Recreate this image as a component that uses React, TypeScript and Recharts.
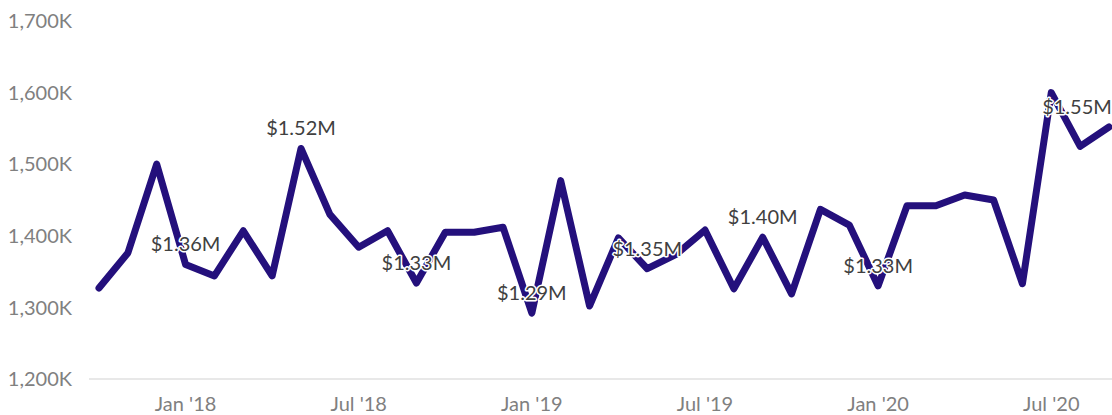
import { LineChart, Line, XAxis, YAxis, LabelList } from 'recharts';

const months = [
  "Oct '17", "Nov '17", "Dec '17",
  "Jan '18", "Feb '18", "Mar '18", "Apr '18", "May '18", "Jun '18",
  "Jul '18", "Aug '18", "Sep '18", "Oct '18", "Nov '18", "Dec '18",
  "Jan '19", "Feb '19", "Mar '19", "Apr '19", "May '19", "Jun '19",
  "Jul '19", "Aug '19", "Sep '19", "Oct '19", "Nov '19", "Dec '19",
  "Jan '20", "Feb '20", "Mar '20", "Apr '20", "May '20", "Jun '20",
  "Jul '20", "Aug '20", "Sep '20",
];

// revenue in thousands of dollars
const revenueK = [
  1327, 1376, 1500,
  1360, 1344, 1407, 1344, 1522, 1430,
  1384, 1407, 1334, 1405, 1405, 1412,
  1292, 1477, 1302, 1397, 1354, 1374,
  1408, 1326, 1398, 1319, 1437, 1415,
  1330, 1442, 1442, 1457, 1450, 1333,
  1600, 1525, 1552,
];

const labeledMonths = ["Jan '18", "May '18", "Sep '18", "Jan '19", "May '19", "Sep '19", "Jan '20", "Sep '20"];
const xTicks = ["Jan '18", "Jul '18", "Jan '19", "Jul '19", "Jan '20", "Jul '20"];
const yTicks = [1200, 1300, 1400, 1500, 1600, 1700];

const W = 1112;
const H = 415;
const LINE_COLOR = '#24107c';
const FONT = 'Lato, "Open Sans", sans-serif';

const data = months.map((m, i) => ({
  month: m,
  revenue: revenueK[i],
  label: labeledMonths.includes(m) ? revenueK[i] : null,
}));

function renderLabel(props: any) {
  const { x, y, value } = props;
  if (value == null) return null;
  const text = `$${(value / 1000).toFixed(2)}M`;
  const cx = Math.min(Number(x), W - 35);
  return (
    <text
      x={cx}
      y={Number(y) - 21}
      textAnchor="middle"
      dominantBaseline="central"
      fontFamily={FONT}
      fontSize={20}
      fill="#404040"
      stroke="#ffffff"
      strokeWidth={3}
      strokeLinejoin="round"
      paintOrder="stroke"
    >
      {text}
    </text>
  );
}

export default function App() {
  return (
    <div style={{ width: W, height: H }}>
      <style>{'body{margin:0}'}</style>
      <LineChart width={W} height={H} data={data} margin={{ top: 21, right: 0, bottom: 0, left: 0 }}>
        <XAxis
          dataKey="month"
          ticks={xTicks}
          interval={0}
          padding={{ left: 10, right: 3 }}
          height={36}
          tickSize={0}
          tickMargin={18}
          tickLine={false}
          axisLine={{ stroke: '#e8e8e8', strokeWidth: 2 }}
          tick={{ fontSize: 20, fill: '#808080', fontFamily: FONT }}
        />
        <YAxis
          domain={[1200, 1700]}
          ticks={yTicks}
          width={89}
          tickSize={0}
          tickMargin={17}
          tickLine={false}
          axisLine={false}
          tickFormatter={(v) => `${Number(v).toLocaleString('en-US')}K`}
          tick={{ fontSize: 20, fill: '#808080', fontFamily: FONT }}
        />
        <Line
          type="linear"
          dataKey="revenue"
          stroke={LINE_COLOR}
          strokeWidth={7}
          strokeLinejoin="round"
          strokeLinecap="round"
          dot={false}
          activeDot={false}
          isAnimationActive={false}
        >
          <LabelList dataKey="label" content={renderLabel} />
        </Line>
      </LineChart>
    </div>
  );
}
